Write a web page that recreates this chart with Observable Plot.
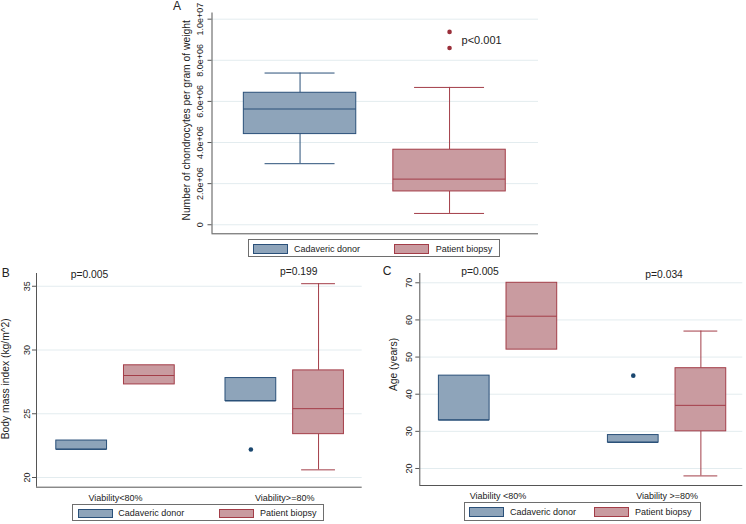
<!DOCTYPE html>
<html><head><meta charset="utf-8">
<script src="https://cdn.jsdelivr.net/npm/d3@7"></script>
<script src="https://cdn.jsdelivr.net/npm/@observablehq/plot@0.6"></script>
<style>
body{margin:0;background:#fff;font-family:"Liberation Sans",Arial,sans-serif;}
#fig{position:relative;width:746px;height:524px;background:#fff;overflow:hidden;color:#222}
.panel{position:absolute}
.panel svg{display:block}
.legend{position:absolute;border:1px solid #6e6e6e;background:#fff;box-sizing:border-box}
.sw{position:absolute;box-sizing:border-box;border:1px solid}
.lb{position:absolute;white-space:nowrap;font-size:9px;line-height:12px}
.letter{position:absolute;font-size:12px;line-height:12px}
</style></head><body><div id="fig"></div>
<script>
// ---------- shared ----------
const donors = ["Cadaveric donor", "Patient biopsy"];

// ---------- Panel A: chondrocytes per gram ----------
const aQ1  = [4.41e6, 1.62e6];
const aMed = [5.63e6, 2.22e6];
const aQ3  = [6.42e6, 3.65e6];
const aLo  = [2.97e6, 0.55e6];
const aHi  = [7.38e6, 6.68e6];
const aOutDonor = ["Patient biopsy", "Patient biopsy"];
const aOutVal   = [9.38e6, 8.60e6];
const aTicks = [0, 2e6, 4e6, 6e6, 8e6, 1e7];
const aTickLabels = ["0", "2.0e+06", "4.0e+06", "6.0e+06", "8.0e+06", "1.0e+07"];
const aTitle = "Number of chondrocytes per gram of weight";
const aP = ["p<0.001"];

// ---------- Panel B: BMI ----------
const groupsB = ["Viability<80%", "Viability>=80%"];
const bCadQ1 = [22.2, 26.0], bCadMed = [22.2, 26.0], bCadQ3 = [22.9, 27.8], bCadLo = [null, null], bCadHi = [null, null];
const bPatQ1 = [27.3, 23.4], bPatMed = [28.0, 25.4], bPatQ3 = [28.8, 28.4], bPatLo = [null, 20.6], bPatHi = [null, 35.2];
const bOutGroup = ["Viability>=80%"], bOutDonor = ["Cadaveric donor"], bOutVal = [22.2];
const bTicks = [20, 25, 30, 35];
const bTickLabels = ["20", "25", "30", "35"];
const bTitle = "Body mass index (kg/m^2)";
const bP = ["p=0.005", "p=0.199"];

// ---------- Panel C: Age ----------
const groupsC = ["Viability <80%", "Viability >=80%"];
const cCadQ1 = [33, 27], cCadMed = [33, 27], cCadQ3 = [45, 29], cCadLo = [null, null], cCadHi = [null, null];
const cPatQ1 = [52, 30], cPatMed = [61, 37], cPatQ3 = [70, 47], cPatLo = [null, 18], cPatHi = [null, 57];
const cOutGroup = ["Viability >=80%"], cOutDonor = ["Cadaveric donor"], cOutVal = [45];
const cTicks = [20, 30, 40, 50, 60, 70];
const cTickLabels = ["20", "30", "40", "50", "60", "70"];
const cTitle = "Age (years)";
const cP = ["p=0.005", "p=0.034"];

// ---------- styles ----------
const FILL = ["#8ea4ba", "#c99ba0"];
const LINE = ["#2a5079", "#a33d48"];
const DOTC = ["#1a476f", "#9a2f3a"];
const GRID = "#e3ecef", AXIS = "#555", TEXT = "#222";
const FONT = "Liberation Sans, Arial, sans-serif";

function boxMarks(rows, outs, hw, cw) {
  const marks = [];
  donors.forEach((dn, j) => {
    const R = rows.filter(r => r.donor === dn);
    const W = R.filter(r => r.hi != null);
    const O = outs.filter(o => o.donor === dn);
    marks.push(
      Plot.ruleX(W, {x: "pos", y1: "q3", y2: "hi", stroke: LINE[j]}),
      Plot.ruleX(W, {x: "pos", y1: "q1", y2: "lo", stroke: LINE[j]}),
      Plot.ruleY(W, {x1: d => d.pos - cw, x2: d => d.pos + cw, y: "hi", stroke: LINE[j]}),
      Plot.ruleY(W, {x1: d => d.pos - cw, x2: d => d.pos + cw, y: "lo", stroke: LINE[j]}),
      Plot.rect(R, {x1: d => d.pos - hw, x2: d => d.pos + hw, y1: "q1", y2: "q3", fill: FILL[j], stroke: LINE[j], strokeWidth: 1}),
      Plot.ruleY(R, {x1: d => d.pos - hw, x2: d => d.pos + hw, y: "med", stroke: LINE[j]}),
      Plot.dot(O, {x: "pos", y: "v", r: 2.3, fill: DOTC[j], stroke: "none"})
    );
  });
  return marks;
}

function frameMarks(xDomain, yDomain, ticks, tickLabels, tickDx, title, titleDx, titleDy) {
  return [
    Plot.ruleY(ticks, {stroke: GRID}),
    Plot.ruleY([yDomain[0]], {stroke: AXIS}),
    Plot.ruleX([xDomain[0]], {stroke: AXIS}),
    Plot.axisY(ticks, {tickSize: 4, tickFormat: () => "", stroke: AXIS, label: null}),
    Plot.text(ticks, {y: d => d, text: (d, i) => tickLabels[i], frameAnchor: "left", textAnchor: "middle", rotate: -90, dx: tickDx, fontSize: 9, fill: TEXT, lineAnchor: "middle"}),
    Plot.text([title], {text: d => d, frameAnchor: "left", textAnchor: "middle", rotate: -90, dx: titleDx, dy: titleDy, fontSize: 10.3, fill: TEXT, lineAnchor: "middle"})
  ];
}

function mount(svg, left, top) {
  const d = document.createElement("div");
  d.className = "panel";
  d.style.left = left + "px"; d.style.top = top + "px";
  d.appendChild(svg);
  document.getElementById("fig").appendChild(d);
}

// ---------- build Panel A ----------
{
  const rows = donors.map((dn, i) => ({donor: dn, pos: i, q1: aQ1[i], med: aMed[i], q3: aQ3[i], lo: aLo[i], hi: aHi[i]}));
  const outs = aOutVal.map((v, k) => ({donor: aOutDonor[k], pos: donors.indexOf(aOutDonor[k]), v}));
  const xDomain = [-0.589, 1.595], yDomain = [-0.44e6, 1.03e7];
  const svg = Plot.plot({
    width: 390, height: 240,
    marginLeft: 51.5, marginRight: 12, marginTop: 12.5, marginBottom: 6.7,
    x: {type: "linear", domain: xDomain, axis: null},
    y: {domain: yDomain},
    style: {fontFamily: FONT, fontSize: "9px", color: TEXT, background: "transparent", overflow: "visible"},
    marks: [
      ...frameMarks(xDomain, yDomain, aTicks, aTickLabels, -11.5, aTitle, -24.8, -3),
      ...boxMarks(rows, outs, 0.376, 0.234),
      Plot.text(aP, {text: d => d, x: () => donors.indexOf("Patient biopsy"), dx: 12, textAnchor: "start", frameAnchor: "top", lineAnchor: "bottom", dy: 30.8, fontSize: 11, fill: TEXT})
    ]
  });
  mount(svg, 160, 0);
}

function groupedRows(groups, cad, pat, off) {
  const rows = [];
  groups.forEach((g, gi) => {
    [cad, pat].forEach((s, di) => {
      rows.push({group: g, donor: donors[di], pos: gi + 0.5 + (di ? off : -off),
        q1: s.q1[gi], med: s.med[gi], q3: s.q3[gi], lo: s.lo[gi], hi: s.hi[gi]});
    });
  });
  return rows;
}
function groupedOuts(groups, og, od, ov, off) {
  return ov.map((v, k) => {
    const gi = groups.indexOf(og[k]), di = donors.indexOf(od[k]);
    return {donor: od[k], pos: gi + 0.5 + (di ? off : -off), v};
  });
}
function pMarks(groups, ps, dxs, dys, fs) {
  return ps.map((p, i) => Plot.text([{p, gi: i}], {text: "p", x: d => d.gi + 0.5, dx: dxs[i], frameAnchor: "top", textAnchor: "middle", lineAnchor: "bottom", dy: dys[i], fontSize: fs, fill: TEXT}));
}

// ---------- build Panel B ----------
{
  const rows = groupedRows(groupsB,
    {q1: bCadQ1, med: bCadMed, q3: bCadQ3, lo: bCadLo, hi: bCadHi},
    {q1: bPatQ1, med: bPatMed, q3: bPatQ3, lo: bPatLo, hi: bPatHi}, 0.2);
  const outs = groupedOuts(groupsB, bOutGroup, bOutDonor, bOutVal, 0.2);
  const xDomain = [0.033, 1.958], yDomain = [19.24, 36.0];
  const svg = Plot.plot({
    width: 370, height: 250,
    marginLeft: 36, marginRight: 8.3, marginTop: 18, marginBottom: 18.3,
    x: {type: "linear", domain: xDomain, axis: null},
    y: {domain: yDomain},
    style: {fontFamily: FONT, fontSize: "9px", color: TEXT, background: "transparent", overflow: "visible"},
    marks: [
      ...frameMarks(xDomain, yDomain, bTicks, bTickLabels, -9.3, bTitle, -31, -1.6),
      ...boxMarks(rows, outs, 0.15, 0.1),
      Plot.text(groupsB, {text: d => d, x: (d, i) => i + 0.5, frameAnchor: "bottom", textAnchor: "middle", lineAnchor: "top", dy: 7, fontSize: 9, fill: TEXT}),
      ...pMarks(groupsB, bP, [-26, 14], [4.7, 1.7], 10.3)
    ]
  });
  mount(svg, 0, 255);
}

// ---------- build Panel C ----------
{
  const rows = groupedRows(groupsC,
    {q1: cCadQ1, med: cCadMed, q3: cCadQ3, lo: cCadLo, hi: cCadHi},
    {q1: cPatQ1, med: cPatMed, q3: cPatQ3, lo: cPatLo, hi: cPatHi}, 0.2);
  const outs = groupedOuts(groupsC, cOutGroup, cOutDonor, cOutVal, 0.2);
  const xDomain = [0.037, 1.948], yDomain = [15.42, 72.5];
  const svg = Plot.plot({
    width: 376, height: 250,
    marginLeft: 49.3, marginRight: 3.7, marginTop: 18, marginBottom: 20,
    x: {type: "linear", domain: xDomain, axis: null},
    y: {domain: yDomain},
    style: {fontFamily: FONT, fontSize: "9px", color: TEXT, background: "transparent", overflow: "visible"},
    marks: [
      ...frameMarks(xDomain, yDomain, cTicks, cTickLabels, -10.3, cTitle, -26, -15),
      ...boxMarks(rows, outs, 0.15, 0.1),
      Plot.text(groupsC, {text: d => d, x: (d, i) => i + 0.5, frameAnchor: "bottom", textAnchor: "middle", lineAnchor: "top", dy: 7, fontSize: 9, fill: TEXT}),
      ...pMarks(groupsC, cP, [-18, -3], [1.3, 4.7], 10.3)
    ]
  });
  mount(svg, 370, 255);
}

// ---------- legends & panel letters (HTML) ----------
const fig = document.getElementById("fig");
function el(cls, css, text) {
  const d = document.createElement("div");
  d.className = cls;
  Object.assign(d.style, css);
  if (text != null) d.textContent = text;
  fig.appendChild(d);
  return d;
}
function legend(box, sw, lbX, cy) {
  el("legend", {left: box[0] + "px", top: box[1] + "px", width: box[2] + "px", height: box[3] + "px"});
  donors.forEach((dn, j) => {
    el("sw", {left: sw[j][0] + "px", top: sw[j][1] + "px", width: sw[j][2] + "px", height: sw[j][3] + "px", background: FILL[j], borderColor: LINE[j]});
    el("lb", {left: lbX[j] + "px", top: (cy - 6) + "px"}, dn);
  });
}
legend([248, 239, 252, 18], [[252.7, 244, 35, 9.5], [394, 244, 35.3, 9.5]], [294, 435.7], 248.5);
legend([72.3, 504.3, 251.7, 16.7], [[78.3, 509, 34.4, 9.2], [219.3, 509, 35, 9.2]], [118.3, 260], 512.8);
legend([464.3, 501.7, 236.4, 19.3], [[468.7, 506.6, 35.6, 10], [594, 506.6, 35.3, 10]], [510, 635], 511.6);

el("letter", {left: "173px", top: "0px"}, "A");
el("letter", {left: "1.7px", top: "266.5px"}, "B");
el("letter", {left: "382.7px", top: "264.8px"}, "C");
</script>
</body></html>
